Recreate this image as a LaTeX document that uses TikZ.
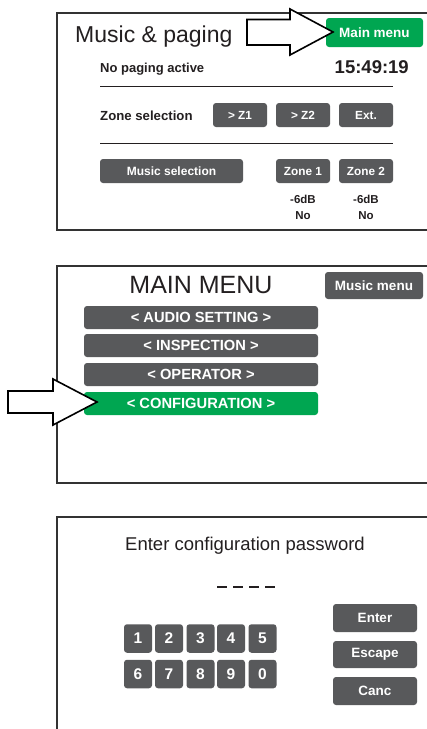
\documentclass[tikz,border=0pt]{standalone}
\usepackage{fontspec}
\setmainfont{Liberation Sans}
\definecolor{btngray}{HTML}{58595B}
\definecolor{btngreen}{HTML}{00A651}
\definecolor{ink}{HTML}{231F20}
\definecolor{framec}{HTML}{333333}
\newcommand{\fsz}[1]{\fontsize{#1}{#1}\selectfont}
\tikzset{
  frame/.style={draw=framec, line width=1.5pt, fill=none},
  rule/.style={draw=ink, line width=1pt},
  btn/.style={fill=btngray, rounded corners=3pt, text=white, inner sep=0pt,
     font=\bfseries\fsz{11.8}},
  gbtn/.style={btn, fill=btngreen},
  lbl/.style={text=ink, inner sep=0pt},
  bigarrow/.style={draw=black, fill=white, line width=1.6pt, line join=miter},
  pwdash/.style={draw=ink, line width=2.6pt},
}
\begin{document}
\begin{tikzpicture}[x=1pt,y=-1pt]
\clip (0,0) rectangle (427,729);
\fill[white] (0,0) rectangle (427,729);

% ---------- Panel 1 ----------
\draw[frame] (57,13) rectangle (440,230);
\node[lbl, anchor=base west, font=\fsz{23}] (t1) at (75,42) {Music \& paging};
\node[gbtn, minimum width=97pt, minimum height=29pt, font=\bfseries\fsz{13.5}] (mainmenu) at (374.5,32.5) {Main menu};
\node[lbl, anchor=base west, font=\bfseries\fsz{13}] (nopag) at (100,72) {No paging active};
\node[lbl, anchor=base east, font=\bfseries\fsz{18.5}] (clock) at (409,73) {15:49:19};
\coordinate (r1a) at (100,86); \coordinate (r1b) at (393,86);
\draw[rule] (r1a) -- (r1b);
\node[lbl, anchor=base west, font=\bfseries\fsz{13.2}] (zsel) at (100,120) {Zone selection};
\node[btn, minimum width=54pt, minimum height=24pt] (z1) at (240,115) {> Z1};
\node[btn, minimum width=54pt, minimum height=24pt] (z2) at (303,115) {> Z2};
\node[btn, minimum width=54pt, minimum height=24pt] (ext) at (366,115) {Ext.};
\coordinate (r2a) at (100,143); \coordinate (r2b) at (393,143);
\draw[rule] (r2a) -- (r2b);
\node[btn, minimum width=143pt, minimum height=24pt, font=\bfseries\fsz{12}] (musel) at (171.5,171) {Music selection};
\node[btn, minimum width=54pt, minimum height=24pt] (zone1) at (303,171) {Zone 1};
\node[btn, minimum width=54pt, minimum height=24pt] (zone2) at (366,171) {Zone 2};
\node[lbl, font=\bfseries\fsz{11.5}] (db1) at (303,199.5) {-6dB};
\node[lbl, font=\bfseries\fsz{11.5}] (db2) at (366,199.5) {-6dB};
\node[lbl, font=\bfseries\fsz{11.5}] (no1) at (303,216) {No};
\node[lbl, font=\bfseries\fsz{11.5}] (no2) at (366,216) {No};
\draw[bigarrow] (247,19.5) -- (290,19.5) -- (290,9) -- (333,32) -- (290,55) -- (290,45) -- (247,45) -- cycle;

% ---------- Panel 2 ----------
\draw[frame] (57,266) rectangle (440,483);
\node[lbl, anchor=base, font=\fsz{25}] (t2) at (201,293) {MAIN MENU};
\node[btn, minimum width=98pt, minimum height=27pt, font=\bfseries\fsz{13.5}] (musmenu) at (374,285.5) {Music menu};
\tikzset{mbtn/.style={btn, minimum width=234pt, minimum height=23pt, font=\bfseries\fsz{14.7}}}
\node[mbtn] (audio) at (201,317.5) {< AUDIO SETTING >};
\node[mbtn] (insp) at (201,345.5) {< INSPECTION >};
\node[mbtn] (oper) at (201,374.5) {< OPERATOR >};
\node[mbtn, fill=btngreen] (config) at (201,403.5) {< CONFIGURATION >};
\draw[bigarrow] (8,391) -- (53,391) -- (53,379) -- (97,402) -- (53,425) -- (53,413) -- (8,413) -- cycle;

% ---------- Panel 3 ----------
\draw[frame] (57,517) rectangle (440,760);
\node[lbl, anchor=base, font=\fsz{18.5}] (t3) at (245,550) {Enter configuration password};
\foreach \i/\x in {1/217,2/233,3/249,4/265}{
  \coordinate (d\i a) at (\x,587); \coordinate (d\i b) at (\x+10,587);
  \draw[pwdash] (d\i a) -- (d\i b);
}
\tikzset{key/.style={btn, minimum width=28pt, minimum height=28.5pt, font=\bfseries\fsz{15.5}}}
\node[key] (k1) at (138,638.5) {1};
\node[key] (k2) at (169,638.5) {2};
\node[key] (k3) at (200.5,638.5) {3};
\node[key] (k4) at (231,638.5) {4};
\node[key] (k5) at (262.5,638.5) {5};
\node[key] (k6) at (138,674) {6};
\node[key] (k7) at (169,674) {7};
\node[key] (k8) at (200.5,674) {8};
\node[key] (k9) at (231,674) {9};
\node[key] (k0) at (262.5,674) {0};
\tikzset{sbtn/.style={btn, minimum width=84pt, minimum height=28pt, font=\bfseries\fsz{13.5}}}
\node[sbtn] (enter) at (375,618) {Enter};
\node[sbtn, minimum height=27pt] (escape) at (375,654.5) {Escape};
\node[sbtn] (canc) at (375,691) {Canc};
\end{tikzpicture}
\end{document}
